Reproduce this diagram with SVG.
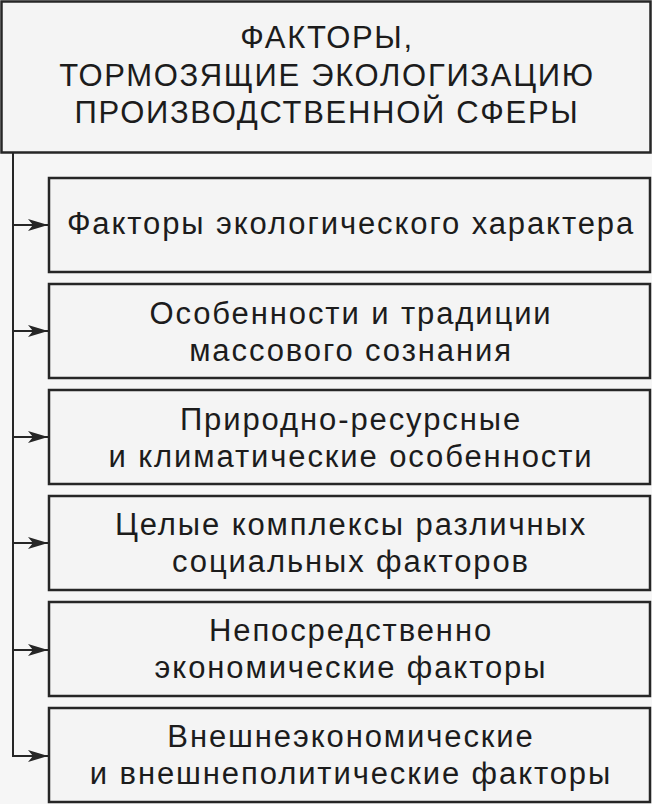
<svg xmlns="http://www.w3.org/2000/svg" width="652" height="804" viewBox="0 0 652 804">
  <defs>
    <style>
      .box { fill: #f4f4f4; stroke: #262626; stroke-width: 2.5; }
      .t { font-family: "Liberation Sans", Arial, sans-serif; font-size: 31px; letter-spacing: 1.9px; fill: #1c1c1c; text-anchor: middle; }
      .title { letter-spacing: 1.7px; }
      .conn { fill: none; stroke: #262626; stroke-width: 2; }
    </style>
    <marker id="arr" viewBox="0 0 20 12" refX="20" refY="6" markerWidth="20" markerHeight="12" markerUnits="userSpaceOnUse" orient="auto">
      <path d="M0,0 L20,6 L0,12 L5,6 Z" fill="#262626"/>
    </marker>
  </defs>
  <rect x="0" y="0" width="652" height="804" fill="#f6f6f6"/>

  <g id="title">
    <rect class="box" x="1.5" y="1.5" width="649" height="151"/>
    <text class="t title" x="327" y="48">ФАКТОРЫ,</text>
    <text class="t title" x="327" y="86">ТОРМОЗЯЩИЕ ЭКОЛОГИЗАЦИЮ</text>
    <text class="t title" x="327" y="123">ПРОИЗВОДСТВЕННОЙ СФЕРЫ</text>
  </g>

  <g id="connectors">
    <line class="conn" x1="13" y1="152" x2="13" y2="756"/>
    <line class="conn" x1="12" y1="225" x2="48" y2="225" marker-end="url(#arr)"/>
    <line class="conn" x1="12" y1="331" x2="48" y2="331" marker-end="url(#arr)"/>
    <line class="conn" x1="12" y1="437" x2="48" y2="437" marker-end="url(#arr)"/>
    <line class="conn" x1="12" y1="543" x2="48" y2="543" marker-end="url(#arr)"/>
    <line class="conn" x1="12" y1="650" x2="48" y2="650" marker-end="url(#arr)"/>
    <line class="conn" x1="12" y1="756" x2="48" y2="756" marker-end="url(#arr)"/>
  </g>

  <g id="n1">
    <rect class="box" x="49" y="178" width="601" height="94"/>
    <text class="t" x="351" y="234">Факторы экологического характера</text>
  </g>
  <g id="n2">
    <rect class="box" x="49" y="284" width="601" height="94"/>
    <text class="t" x="351" y="324">Особенности и традиции</text>
    <text class="t" x="351" y="361">массового сознания</text>
  </g>
  <g id="n3">
    <rect class="box" x="49" y="390" width="601" height="94"/>
    <text class="t" x="351" y="430">Природно-ресурсные</text>
    <text class="t" x="351" y="467">и климатические особенности</text>
  </g>
  <g id="n4">
    <rect class="box" x="49" y="496" width="601" height="94"/>
    <text class="t" x="351" y="535">Целые комплексы различных</text>
    <text class="t" x="351" y="572">социальных факторов</text>
  </g>
  <g id="n5">
    <rect class="box" x="49" y="602" width="601" height="94"/>
    <text class="t" x="351" y="641">Непосредственно</text>
    <text class="t" x="351" y="678">экономические факторы</text>
  </g>
  <g id="n6">
    <rect class="box" x="49" y="708" width="601" height="94"/>
    <text class="t" x="351" y="747">Внешнеэкономические</text>
    <text class="t" x="351" y="784">и внешнеполитические факторы</text>
  </g>
</svg>
